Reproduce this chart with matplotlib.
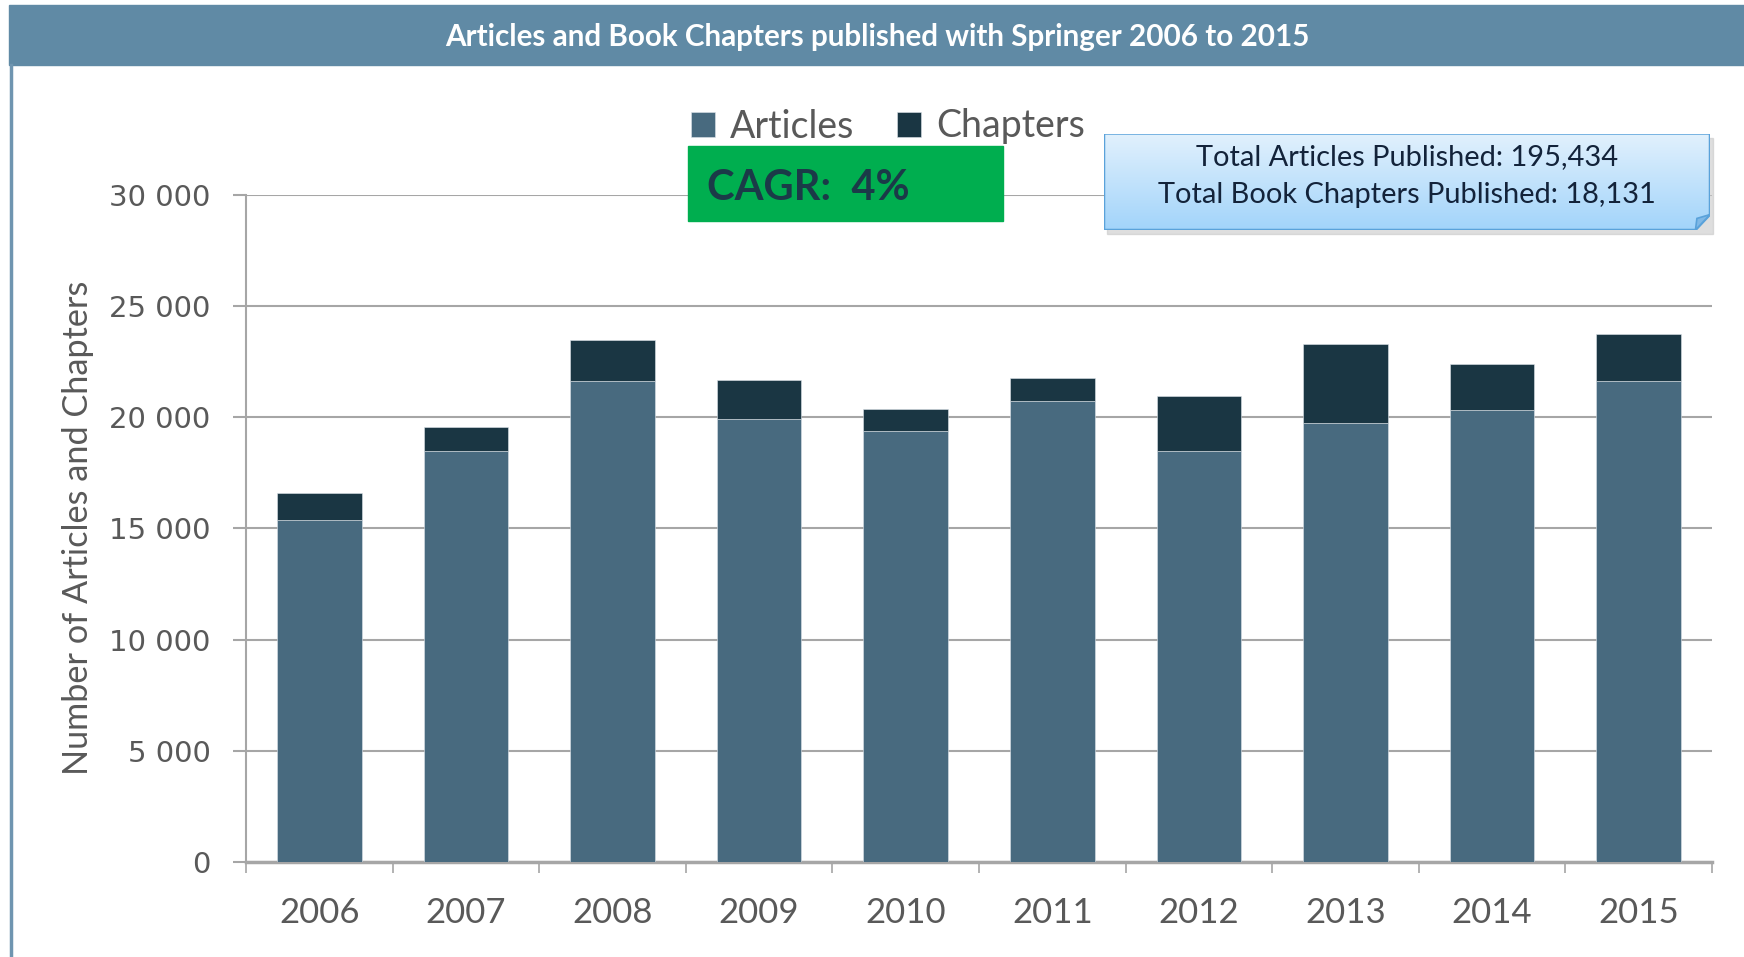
import numpy as np
import matplotlib
matplotlib.use("Agg")
import matplotlib.pyplot as plt
from matplotlib.patches import Rectangle, Polygon
from matplotlib.lines import Line2D
from matplotlib.colors import LinearSegmentedColormap

years = ["2006", "2007", "2008", "2009", "2010", "2011", "2012", "2013", "2014", "2015"]
articles = [15370, 18490, 21620, 19930, 19370, 20720, 18490, 19730, 20320, 21620]
chapters = [1200, 1060, 1840, 1750, 980, 1030, 2440, 3540, 2050, 2100]
yticks = [0, 5000, 10000, 15000, 20000, 25000, 30000]
ytick_labels = ["0", "5 000", "10 000", "15 000", "20 000", "25 000", "30 000"]

title = "Articles and Book Chapters published with Springer 2006 to 2015"
info_lines = ["Total Articles Published: 195,434", "Total Book Chapters Published: 18,131"]
cagr_text = "CAGR:  4%"

c_art = "#486a7f"
c_chap = "#1a3643"
c_grid = "#a6a6a6"
c_text = "#595959"

W, H = 1744, 957
fig = plt.figure(figsize=(W / 100, H / 100), dpi=100)


def fx(px):
    return px / W


def fy(py):
    return 1 - py / H


# title bar + left border line
fig.patches.append(Rectangle((fx(9), fy(65)), 1 - fx(9), fy(5) - fy(65),
                             transform=fig.transFigure, color="#608aa5", zorder=0))
fig.lines.append(Line2D([fx(10.5), fx(10.5)], [fy(65), 0], transform=fig.transFigure,
                        color="#6f95b0", lw=2.5))
fig.text(fx(877), fy(37), title, color="white", fontsize=21.3, fontweight="bold",
         family="Lato", ha="center", va="center")

# main axes
ax_l, ax_r = 246, 1712
ax = fig.add_axes([fx(ax_l), fy(862), fx(ax_r) - fx(ax_l), fy(194.6) - fy(862)])
x = np.arange(len(years))
b1 = ax.bar(x, articles, width=0.576, color=c_art, edgecolor="#dde4ea", linewidth=0.4,
            label="Articles", zorder=3)
b2 = ax.bar(x, chapters, bottom=articles, width=0.576, color=c_chap, edgecolor="#dde4ea",
            linewidth=0.4, label="Chapters", zorder=3)

ax.set_xlim(-0.5, len(years) - 0.5)
ax.set_ylim(0, 30000)
ax.set_yticks(yticks)
ax.set_yticklabels(ytick_labels, family="DejaVu Sans", fontsize=21, color=c_text)
ax.set_xticks(x)
ax.set_xticklabels(years, family="Lato", fontsize=25, color=c_text)
ax.set_xticks(np.arange(-0.5, len(years)), minor=True)
ax.tick_params(axis="x", which="major", length=0, pad=25)
ax.tick_params(axis="x", which="minor", length=8, width=1.2, color=c_grid, direction="out")
ax.tick_params(axis="y", length=9.5, width=1.5, color=c_grid, pad=16)
ax.yaxis.grid(True, color=c_grid, lw=1.5, zorder=0)
ax.set_axisbelow(True)
for s in ["top", "right"]:
    ax.spines[s].set_visible(False)
ax.spines["left"].set_color(c_grid)
ax.spines["left"].set_linewidth(1.5)
ax.spines["bottom"].set_color(c_grid)
ax.spines["bottom"].set_linewidth(2.5)
ax.set_ylabel("Number of Articles and Chapters", family="Lato", fontsize=24.7,
              color=c_text)
ax.yaxis.set_label_coords((94 - ax_l) / (ax_r - ax_l), 0.5)

# legend
ax.legend(handles=[b1, b2], ncol=2, loc="center",
          bbox_to_anchor=(fx(888), fy(126.5)), bbox_transform=fig.transFigure,
          frameon=False, prop={"family": "Lato", "size": 27},
          labelcolor=c_text, handlelength=0.63, handleheight=0.63,
          handletextpad=0.4, columnspacing=1.15)

# CAGR box
fig.patches.append(Rectangle((fx(688), fy(221)), fx(1003) - fx(688), fy(146) - fy(221),
                             transform=fig.transFigure, color="#00ae4f", zorder=5))
fig.text(fx(707), fy(188.5), cagr_text, color="#1b3a48", fontsize=30, fontweight="bold",
         family="Lato", ha="left", va="center", zorder=6)

# info box with gradient and folded corner
x0, x1, y0, y1 = 1104, 1710, 133.5, 230
fig.patches.append(Rectangle((fx(x0 + 3), fy(y1 + 4)), fx(x1) - fx(x0), fy(y0) - fy(y1),
                             transform=fig.transFigure, color="#c8c8c8", alpha=0.6, zorder=5))
bx = fig.add_axes([fx(x0), fy(y1), fx(x1) - fx(x0), fy(y0) - fy(y1)])
bx.set_zorder(10)
bx.set_xlim(0, 1)
bx.set_ylim(0, 1)
bx.axis("off")
cmap = LinearSegmentedColormap.from_list("box", ["#a2d4fa", "#e2f1fd"])
grad = np.linspace(0, 1, 256).reshape(-1, 1)
im = bx.imshow(grad, extent=(0, 1, 0, 1), origin="lower", aspect="auto", cmap=cmap)
fx_c, fy_c = 0.024, 0.16
outline = Polygon([(0, 0), (1 - fx_c, 0), (1, fy_c), (1, 1), (0, 1)], closed=True,
                  facecolor="none", edgecolor="#5aa2da", lw=1.8)
bx.add_patch(outline)
im.set_clip_path(outline)
bx.add_patch(Polygon([(1 - fx_c, 0), (1, fy_c), (1 - fx_c * 0.9, fy_c * 0.75)], closed=True,
                     facecolor="#7fb8e6", edgecolor="#5aa2da", lw=1.2))
bx.text(0.5, 0.76, info_lines[0], transform=bx.transAxes, ha="center", va="center",
        family="Lato", fontsize=20.9, color="#13233a")
bx.text(0.5, 0.36, info_lines[1], transform=bx.transAxes, ha="center", va="center",
        family="Lato", fontsize=20.9, color="#13233a")

fig.savefig("out.png", dpi=100)
